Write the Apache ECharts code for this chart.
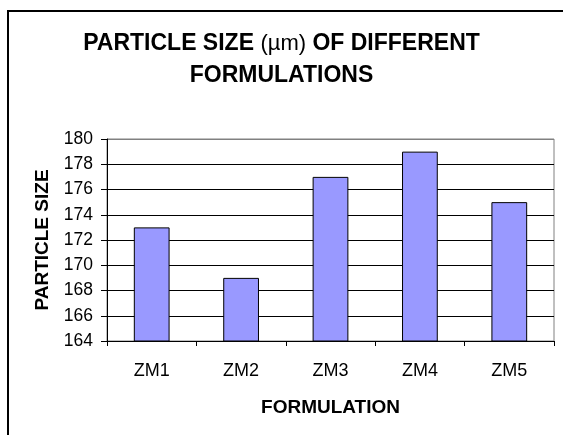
<!DOCTYPE html>
<html>
<head>
<meta charset="utf-8">
<script src="https://cdn.jsdelivr.net/npm/echarts@6/dist/echarts.min.js"></script>
<style>
html,body{margin:0;padding:0;background:#fff;}
#chart{width:563px;height:435px;}
</style>
</head>
<body>
<div id="chart"></div>
<script>
var categories = ['ZM1', 'ZM2', 'ZM3', 'ZM4', 'ZM5'];
var particleSize = [173, 169, 177, 179, 175];
var yMin = 164, yMax = 180, yStep = 2;

var FONT = '"Liberation Sans", Arial, sans-serif';
var chart = echarts.init(document.getElementById('chart'), null, {renderer: 'canvas'});
var gridColors = ['#000','#000','#000','#000','#000','#000','#000','#000','#808080'];
chart.setOption({
  animation: false,
  backgroundColor: '#fff',
  title: {
    text: '{b|PARTICLE SIZE }{r|(µm)}{b| OF DIFFERENT}\n{b|FORMULATIONS}',
    left: 'center',
    top: 23,
    textStyle: {
      rich: {
        b: {fontFamily: FONT, fontSize: 23, fontWeight: 'bold', color: '#000', lineHeight: 32},
        r: {fontFamily: FONT, fontSize: 22, fontWeight: 'normal', color: '#000', lineHeight: 32}
      }
    }
  },
  graphic: [{
    type: 'rect',
    shape: {x: 8, y: 11, width: 700, height: 600},
    style: {fill: 'none', stroke: '#000', lineWidth: 2},
    silent: true
  }],
  grid: {left: 107, right: 9, top: 139, bottom: 94, show: true, borderColor: '#808080', borderWidth: 1},
  xAxis: {
    type: 'category',
    data: categories,
    name: 'FORMULATION',
    nameLocation: 'middle',
    nameGap: 57,
    nameTextStyle: {fontFamily: FONT, fontSize: 19, fontWeight: 'bold', color: '#000'},
    axisLine: {lineStyle: {color: '#000', width: 1}},
    axisTick: {show: true, length: 5, lineStyle: {color: '#000'}},
    axisLabel: {fontFamily: FONT, fontSize: 18, color: '#000', margin: 21}
  },
  yAxis: {
    type: 'value',
    min: yMin, max: yMax, interval: yStep,
    name: 'PARTICLE SIZE',
    nameLocation: 'middle',
    nameGap: 55,
    nameTextStyle: {fontFamily: FONT, fontSize: 19, fontWeight: 'bold', color: '#000'},
    axisLine: {show: true, lineStyle: {color: '#000', width: 1}},
    axisTick: {show: true, length: 6, lineStyle: {color: '#000'}},
    axisLabel: {fontFamily: FONT, fontSize: 17.5, color: '#000', margin: 14},
    splitLine: {show: true, lineStyle: {color: gridColors, width: 1}}
  },
  series: [{
    type: 'bar',
    data: particleSize,
    barCategoryGap: '60%',
    itemStyle: {color: '#9999FF', borderColor: '#000', borderWidth: 1}
  }]
});
</script>
</body>
</html>
